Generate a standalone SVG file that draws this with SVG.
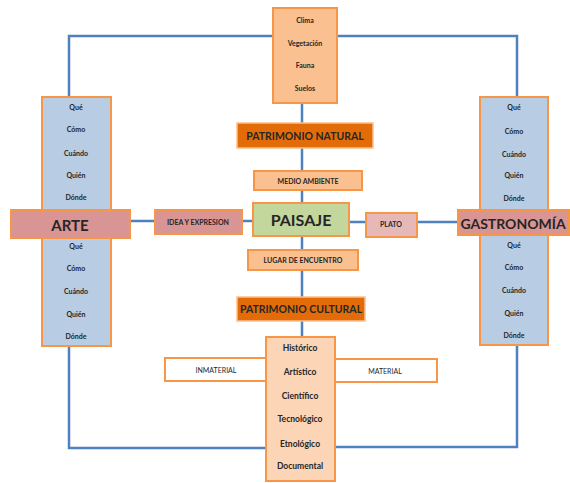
<svg xmlns="http://www.w3.org/2000/svg" width="570" height="483" viewBox="0 0 570 483">
<style>
text{font-family:Lato,"Liberation Sans",sans-serif;font-weight:bold;fill:#262626;text-anchor:middle;dominant-baseline:central}
.sm{font-size:7px}
.md{font-size:8.5px}
.hd{font-size:10.5px}
.ln{fill:none;stroke:#4F81BD;stroke-width:2.5}
.ob{stroke:#F79646;stroke-width:2}
.peach{fill:#FAC090}
.lpeach{fill:#FBD5B5}
.blue{fill:#B8CCE4}
.rose{fill:#D99594}
.lrose{fill:#E6B9B8}
.dorange{fill:#E36C09;stroke:#FAC090;stroke-width:1.5}
.green{fill:#C3D69B}
.white{fill:#FFFFFF}
</style>
<g id="connectors">
<polyline class="ln" points="273,36 69,36 69,97"/>
<polyline class="ln" points="337,36 517,36 517,97"/>
<line class="ln" x1="302" y1="103" x2="302" y2="337" stroke-width="3.5"/>
<line class="ln" x1="130" y1="221" x2="254" y2="221"/>
<line class="ln" x1="349" y1="222" x2="458" y2="222"/>
<polyline class="ln" points="69,346 69,448 266,448"/>
<polyline class="ln" points="517,345 517,447 335,447"/>
</g>
<g id="natural-elements">
<rect class="peach ob" x="273" y="8" width="64" height="95"/>
<text class="sm" x="305" y="20">Clima</text>
<text class="sm" x="305" y="43">Vegetación</text>
<text class="sm" x="305" y="65">Fauna</text>
<text class="sm" x="305" y="88">Suelos</text>
</g>
<g id="arte-questions">
<rect class="blue ob" x="42" y="97" width="69" height="249"/>
<text class="sm" x="76" y="107">Qué</text>
<text class="sm" x="76" y="129">Cómo</text>
<text class="sm" x="76" y="153">Cuándo</text>
<text class="sm" x="76" y="175">Quién</text>
<text class="sm" x="76" y="197">Dónde</text>
<text class="sm" x="76" y="246">Qué</text>
<text class="sm" x="76" y="268">Cómo</text>
<text class="sm" x="76" y="291">Cuándo</text>
<text class="sm" x="76" y="314">Quién</text>
<text class="sm" x="76" y="336">Dónde</text>
</g>
<g id="gastro-questions">
<rect class="blue ob" x="480" y="97" width="68" height="248"/>
<text class="sm" x="514" y="107">Qué</text>
<text class="sm" x="514" y="131">Cómo</text>
<text class="sm" x="514" y="154">Cuándo</text>
<text class="sm" x="514" y="175">Quién</text>
<text class="sm" x="514" y="198">Dónde</text>
<text class="sm" x="514" y="245">Qué</text>
<text class="sm" x="514" y="267">Cómo</text>
<text class="sm" x="514" y="290">Cuándo</text>
<text class="sm" x="514" y="313">Quién</text>
<text class="sm" x="514" y="335">Dónde</text>
</g>
<g id="arte">
<rect class="rose ob" x="11" y="210" width="119" height="28"/>
<text x="70" y="225" style="font-size:15px">ARTE</text>
</g>
<g id="idea">
<rect class="rose ob" x="155" y="210" width="87" height="24"/>
<text class="sm" x="198" y="222">IDEA Y EXPRESION</text>
</g>
<g id="patrimonio-natural">
<rect class="dorange" x="237" y="123" width="136" height="25"/>
<text class="hd" x="305" y="136">PATRIMONIO NATURAL</text>
</g>
<g id="medio-ambiente">
<rect class="peach ob" x="254" y="171" width="108" height="19"/>
<text class="sm" x="308" y="181">MEDIO AMBIENTE</text>
</g>
<g id="paisaje">
<rect class="green ob" x="253" y="203" width="96" height="33"/>
<text x="301" y="219" style="font-size:16px">PAISAJE</text>
</g>
<g id="plato">
<rect class="lrose ob" x="366" y="213" width="51" height="24"/>
<text class="sm" x="391" y="224">PLATO</text>
</g>
<g id="gastronomia">
<rect class="rose ob" x="458" y="210" width="111" height="25"/>
<text x="513" y="223" style="font-size:14px">GASTRONOMÍA</text>
</g>
<g id="lugar">
<rect class="peach ob" x="248" y="250" width="110" height="20"/>
<text class="sm" x="303" y="260">LUGAR DE ENCUENTRO</text>
</g>
<g id="patrimonio-cultural">
<rect class="dorange" x="237" y="297" width="128" height="24"/>
<text class="hd" x="301" y="309">PATRIMONIO CULTURAL</text>
</g>
<g id="inmaterial">
<rect class="white ob" x="165" y="358" width="101" height="23"/>
<text class="sm" x="216" y="370" style="font-weight:normal">INMATERIAL</text>
</g>
<g id="material">
<rect class="white ob" x="335" y="359" width="102" height="23"/>
<text class="sm" x="385" y="371" style="font-weight:normal">MATERIAL</text>
</g>
<g id="cultural-elements">
<rect class="lpeach ob" x="266" y="337" width="69" height="144"/>
<text class="md" x="300" y="348">Histórico</text>
<text class="md" x="300" y="372">Artístico</text>
<text class="md" x="300" y="396">Científico</text>
<text class="md" x="300" y="419">Tecnológico</text>
<text class="md" x="300" y="444">Etnológico</text>
<text class="md" x="300" y="466">Documental</text>
</g>
</svg>
